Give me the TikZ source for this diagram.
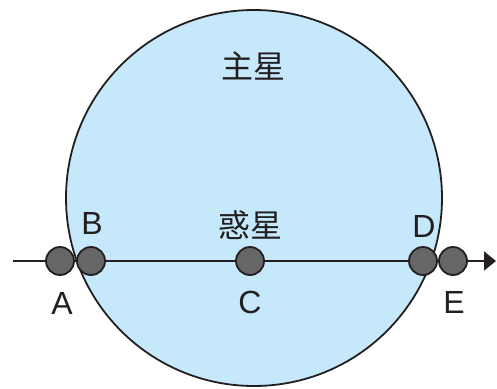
\documentclass[tikz,border=0pt]{standalone}
\usepackage{fontspec}
\setmainfont{Liberation Sans}
\newfontfamily\cjk{Noto Sans CJK SC}
\usetikzlibrary{arrows.meta, positioning}
\definecolor{starblue}{HTML}{C5E9FA}
\definecolor{planetgray}{HTML}{666666}
\definecolor{inkdark}{HTML}{231F20}

\tikzset{
  starbody/.style={circle, draw=inkdark, fill=starblue, line width=1.8pt, minimum size=376pt, inner sep=0pt},
  planet/.style={circle, draw=inkdark, fill=planetgray, line width=1.8pt, minimum size=28pt, inner sep=0pt},
  lbl/.style={font=\fontsize{32}{34}\selectfont, text=inkdark, inner sep=0pt},
  cjklbl/.style={font=\cjk\fontsize{32}{34}\selectfont, text=inkdark, inner sep=0pt}
}

\begin{document}
\begin{tikzpicture}[x=1pt, y=-1pt]
\useasboundingbox (0,0) rectangle (497,388);
\node[starbody] (star) at (254,198) {};
\node[cjklbl] (starname) at (253,66) {主星};
\coordinate (start) at (13,261);
\coordinate (end) at (496,261);
\draw[inkdark, line width=1.8pt, -{Triangle[length=12pt, width=19pt]}] (start) -- (end);
\node[planet] (A) at (60,261) {};
\node[planet] (B) at (91,261) {};
\node[planet] (C) at (250,261) {};
\node[planet] (D) at (423,261) {};
\node[planet] (E) at (453,261) {};
\node[lbl] at (62,303) {A};
\node[lbl] at (92,223) {B};
\node[lbl] at (250,302) {C};
\node[lbl] at (424,226) {D};
\node[lbl] at (454,302) {E};
\node[cjklbl] (planetname) at (250,225) {惑星};
\end{tikzpicture}
\end{document}
